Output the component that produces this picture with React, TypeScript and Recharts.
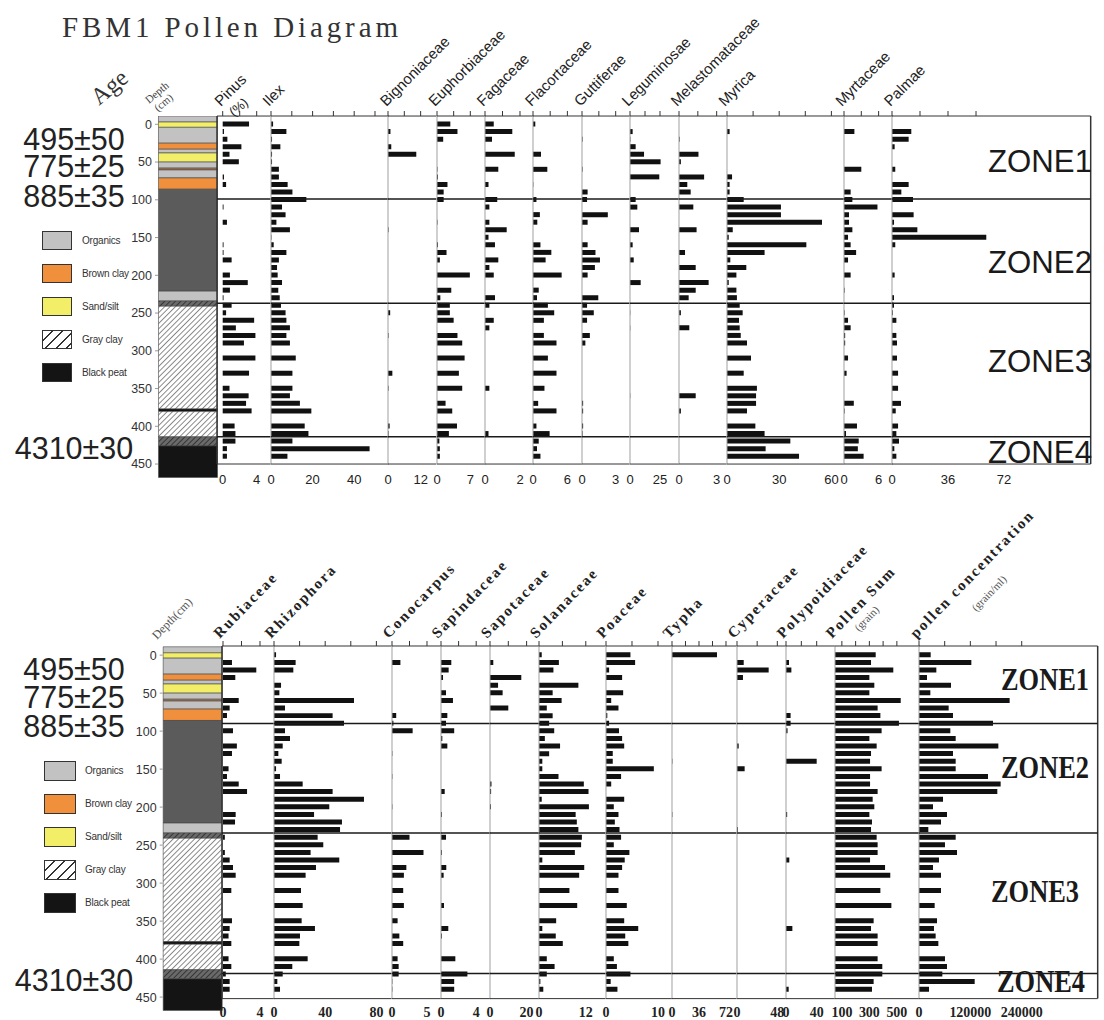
import React from 'react'
import { BarChart, Bar, Cell, XAxis, YAxis, ReferenceLine } from 'recharts'

// sample depths (cm), shared by both panels
const depths = [0, 10, 20, 30, 40, 50, 60, 70, 80, 90, 100, 110, 120, 130, 140, 150, 160, 170, 180, 190, 200, 210, 220, 230, 240, 250, 260, 270, 280, 290, 310, 330, 350, 360, 370, 380, 400, 410, 420, 430, 440]

// upper diagram (%)
const pinus = [3.1, 0.15, 0.55, 2.2, 0.8, 1.9, 0, 0.15, 0.4, 0, 0, 0.1, 0, 0.5, 0, 0, 0.1, 0.1, 1.05, 0, 0.85, 2.95, 0.85, 0.1, 1.05, 0.4, 3.7, 1.55, 3.85, 2.5, 3.85, 3.1, 0.8, 3.05, 2.75, 3.4, 1.4, 1.5, 1.5, 0.5, 0.5]
const ilex = [1.0, 7.4, 0.5, 4.5, 0.5, 0.5, 3.8, 3.8, 8.0, 10.3, 17, 5.3, 7.0, 2.6, 9.1, 0.2, 1.3, 7.4, 3.8, 2.9, 3.2, 5.3, 3.5, 4.2, 4.8, 7.0, 7.4, 9.1, 7.4, 9.1, 11.9, 10.3, 10.3, 9.1, 13.9, 19.4, 16.2, 18, 10.3, 47.4, 7.9]
const bignoniaceae = [0, 0.9, 0, 1.2, 10.4, 0, 0, 0, 0, 0, 0, 0, 0, 0, 0.2, 0, 0, 0, 0, 0, 0, 0, 0, 0, 0, 0.8, 0, 0, 0.2, 0, 0, 1.6, 0.2, 0, 0, 0, 0.6, 0.2, 0, 0, 0]
const euphorbiaceae = [2.8, 4.3, 1.3, 0, 0, 0, 0.1, 0.2, 2.2, 1.4, 1.4, 0, 0, 0.1, 0, 0, 0.2, 2.0, 0.6, 0, 6.9, 0, 3.0, 0.7, 2.7, 2.7, 3.5, 0, 4.3, 5.3, 5.8, 4.6, 5.3, 0, 1.8, 3.2, 4.2, 2.5, 0.5, 0.6, 0.6]
const fagaceae = [0.5, 1.56, 0.4, 0, 1.7, 0, 0.76, 0, 0.2, 0, 0.7, 0.25, 0, 0.25, 1.24, 0.2, 0.57, 0, 0.76, 0.25, 0.5, 0, 0, 0.57, 0.25, 0, 0.5, 0.25, 0, 0, 0, 0, 0.25, 0, 0, 0, 0, 0.2, 0, 0, 0]
const flacortaceae = [0.4, 0, 0, 0, 1.4, 0, 2.5, 0, 0.05, 0, 0.6, 0, 1.2, 0.75, 0, 0, 1.3, 3.2, 2.2, 0, 5.0, 0, 1.0, 0.7, 2.6, 3.7, 1.9, 0, 1.9, 4.1, 2.6, 4.1, 2.0, 0, 0.9, 4.1, 0.6, 2.9, 1.0, 0.7, 1.3]
const guttiferae = [0, 0, 0.05, 0, 0, 0, 0.05, 0, 0, 0.5, 0.45, 0, 2.3, 0.5, 0, 0, 0.5, 1.2, 1.6, 1.15, 0.5, 0, 0, 1.45, 0.45, 1.05, 0.45, 0, 0.7, 0.3, 0, 0, 0, 0, 0.1, 0.1, 0.1, 0.05, 0, 0, 0]
const leguminosae = [0, 2.2, 0.3, 4.7, 11.7, 25.5, 0, 24.4, 0, 0, 4.7, 6.1, 0, 0, 7.5, 0, 2.2, 0, 3.1, 0, 0, 8.9, 0, 0, 0, 0.2, 0, 0.2, 0, 0, 0, 0, 0, 0.2, 0, 0, 0, 0, 0, 0, 0]
const melastomataceae = [0, 0, 0.05, 0, 1.55, 0.15, 0, 2.0, 0.66, 0.93, 0, 1.14, 0, 0, 1.4, 0, 0, 0.48, 0, 1.33, 0, 2.36, 1.33, 0.77, 0, 0.15, 0, 0.82, 0, 0, 0, 0, 0, 1.33, 0, 0.15, 0, 0, 0, 0, 0]
const myrica = [0, 1.5, 0, 0, 0, 0, 0, 2.9, 1.5, 1.5, 9.6, 31, 31, 54.6, 3.3, 1, 45.6, 21.6, 1.9, 11.1, 5.4, 1.0, 5.4, 5.7, 7.3, 9.0, 6.9, 7.3, 7.9, 11.5, 13.8, 9.6, 17.2, 16.7, 16.7, 11.5, 16.3, 21.6, 36.4, 22.2, 41.4]
const myrtaceae = [0, 1.8, 0, 0, 0, 0, 3.0, 0, 0, 1.15, 1.45, 5.8, 0.87, 0.87, 1.45, 0.7, 1.15, 2.1, 0.7, 0, 1.15, 0, 0.1, 0, 0, 0.1, 0.7, 1.15, 0.2, 0.2, 0.7, 0.45, 0, 0, 1.7, 0.1, 2.25, 0.35, 2.55, 2.4, 3.4]
const palmae = [0, 12.4, 10.7, 1.7, 0, 0, 2.1, 0, 10.7, 6.0, 13.5, 0, 13.9, 1.3, 16.3, 60.6, 2.1, 0, 0, 0, 1.7, 0, 0, 1.3, 1.3, 0.5, 2.8, 0, 2.8, 3.2, 3.2, 3.9, 3.9, 0, 5.8, 2.4, 3.9, 2.8, 4.5, 1.5, 2.8]

// lower diagram
const rubiaceae = [0, 0.97, 3.6, 1.33, 0, 0, 1.7, 0.72, 0.43, 0, 1.08, 0, 1.5, 0.97, 0, 0.6, 0.43, 1.7, 2.6, 0, 0, 1.37, 1.3, 0, 0.2, 0, 0.2, 0.72, 1.08, 1.37, 0.9, 0, 0.97, 0.72, 0.6, 0.9, 0.6, 0.9, 0.3, 0.72, 0.72]
const rhizophora = [1.6, 16.9, 15.1, 0, 5.5, 4.2, 62.5, 8.6, 45.8, 54.7, 8.6, 12.5, 6.8, 3.4, 6.0, 1.6, 4.7, 22.4, 45.8, 70.3, 43.2, 31.3, 53.1, 51.6, 34.1, 38.5, 28.6, 51, 32.8, 24.7, 21.1, 22.4, 21.6, 32, 20.3, 19.8, 26.3, 14.3, 6.8, 2.6, 4.7]
const conocarpus = [0, 1.2, 0, 0, 0, 0, 0, 0, 0.6, 0.2, 2.95, 0, 0, 0.05, 0, 0, 0.05, 0, 0, 0, 0.05, 0, 0, 0, 2.5, 0, 4.5, 0, 2.05, 1.7, 1.6, 1.7, 0.8, 0, 1.05, 1.6, 0.8, 0.95, 0.95, 0.05, 0.05]
const sapindaceae = [0, 1.17, 0.87, 0.23, 0, 0.57, 1.36, 0, 0.72, 0.57, 1.5, 0.15, 0.72, 0, 0, 0, 0, 0, 0.42, 0, 0, 0.1, 0, 0, 0.57, 0, 0.1, 0, 0.6, 0.3, 0, 0.34, 0, 0.83, 0.1, 0, 1.63, 0, 3.0, 1.5, 1.5]
const sapotaceae = [0, 1.8, 0, 17.1, 4.4, 6.9, 0, 10, 0, 0, 0, 0, 0, 0, 0, 0, 0, 0.8, 0.6, 0, 0.5, 0, 0, 0, 0, 0, 0, 0, 0, 0, 0, 0, 0, 0, 0, 0, 0, 0, 0, 0, 0]
const solanaceae = [0.7, 5.1, 3.7, 0, 10.1, 3.5, 5.8, 2.0, 3.5, 2.6, 3.9, 1.5, 5.4, 2.6, 0.85, 0.85, 5.0, 11.5, 12.7, 0.7, 12.8, 9.4, 9.7, 10.1, 11, 10.8, 9.2, 0.85, 11.6, 10.3, 7.8, 9.8, 4.4, 0.85, 4.3, 6.1, 2.0, 4.0, 2.0, 0.35, 1.1]
const poaceae = [4.7, 5.6, 0.6, 3.1, 0, 3.3, 1.0, 2.4, 0.25, 0.6, 2.5, 3.1, 3.5, 1.3, 1.3, 9.2, 2.9, 1.0, 0, 3.5, 1.5, 2.4, 1.7, 2.6, 2.9, 1.5, 4.5, 3.6, 3.1, 2.4, 2.4, 4.0, 3.5, 6.2, 3.7, 4.3, 1.5, 2.1, 4.7, 0.9, 2.2]
const typha = [60, 0, 0, 0, 0, 0, 0, 0, 0, 0, 0, 0, 0, 0, 0.5, 0, 0, 0, 0, 0, 0, 0.5, 0, 0, 0, 0, 0, 0, 0, 0, 0, 0, 0, 0, 0, 0, 0, 0, 0, 0, 0]
const cyperaceae = [0, 8, 37.7, 7.1, 0, 0, 0, 0, 0, 0, 0, 0, 2, 0, 0, 9.1, 0, 0, 0, 0, 0, 0, 0, 1, 0, 0, 0, 0, 0, 0, 0, 0, 0, 0, 0, 0, 0, 0, 0, 0, 0]
const polypoidiaceae = [0, 3.9, 7, 0, 0, 0, 0, 0, 6, 6, 2, 0, 0, 0, 40, 0, 0, 0, 0, 0, 0, 1.5, 0, 0, 0, 0, 0, 4.3, 0, 0, 0, 0, 0, 8.3, 0, 0, 0, 0, 0, 0, 3.5]
const pollenSum = [346, 312, 474, 300, 336, 300, 528, 360, 380, 515, 389, 300, 353, 312, 305, 389, 305, 305, 360, 324, 336, 300, 319, 312, 353, 360, 360, 305, 414, 452, 380, 460, 331, 312, 360, 360, 360, 394, 394, 331, 319]
const pollenConc = [27300, 122300, 40500, 18700, 74800, 26500, 211800, 69300, 79400, 172900, 73200, 85700, 185400, 79400, 85700, 85700, 161200, 190800, 183000, 56100, 32700, 65400, 51400, 21800, 85700, 60700, 88800, 46700, 32700, 51400, 51400, 36600, 42100, 35000, 38900, 45200, 60700, 65400, 54500, 130100, 23400]

const ageLabels = ['495±50', '775±25', '885±35', '4310±30']
const ageDepths = [19, 55, 94, 428]
const depthTicks = [0, 50, 100, 150, 200, 250, 300, 350, 400, 450]
const zoneNames = ['ZONE1', 'ZONE2', 'ZONE3', 'ZONE4']
const zonesTop = [99, 237, 414]
const zonesBottom = [90, 234, 419]

const lithLegend = ['Organics', 'Brown clay', 'Sand/silt', 'Gray clay', 'Black peat']
const lithTops = [-11, -3, 4, 25, 33, 38, 50, 58, 60.5, 71, 86, 221, 234, 241, 377, 380.5, 414, 426]
const lithBases = [-3, 4, 25, 33, 38, 50, 58, 60.5, 71, 86, 221, 234, 241, 377, 380.5, 414, 426, 468]
const lithKinds = ['organics', 'sand', 'organics', 'brown', 'organics', 'sand', 'organics', 'thin', 'organics', 'brown', 'dark', 'organics', 'hatchDark', 'hatch', 'black', 'hatch', 'hatchDark', 'black']

const lithFill: Record<string, string> = {
  organics: '#c2c2c2', sand: '#f2ee68', brown: '#f0903c', thin: '#b07850', dark: '#5b5b5b',
  hatch: 'url(#hatch)', hatchDark: 'url(#hatchDark)', black: '#141414',
}
const legendFill = ['#c2c2c2', '#f0903c', '#f2ee68', 'repeating-linear-gradient(135deg, #fff 0 6px, #333 6px 7.4px)', '#141414']

const SANS = "'Liberation Sans', Arial, sans-serif"
const SERIF = "'Liberation Serif', 'Times New Roman', serif"
const TOP_AX = 8
const BOT_AX = 28

type Panel = { y0: number; k: number; dTop: number; dBot: number; lithBot: number; lithL: number; lithR: number; tickMargin: number; tick: any }
const upper: Panel = { y0: 124.8, k: 0.755, dTop: -11, dBot: 450, lithBot: 468, lithL: 158, lithR: 217, tickMargin: 11, tick: { fontSize: 13, fill: '#222', fontFamily: SANS } }
const lower: Panel = { y0: 655, k: 0.76, dTop: -12, dBot: 452, lithBot: 468, lithL: 162.7, lithR: 221.7, tickMargin: 8, tick: { fontSize: 14, fill: '#222', fontFamily: SERIF, fontWeight: 700 } }

type Col = { name: string; sub?: string; values: number[]; left: number; base?: number; unit: number; right: number; start?: number; ticks: number[]; minor: number[] }

const upperCols: Col[] = [
  { name: 'Pinus', sub: '(%)', values: pinus, left: 217, base: 222.7, unit: 8.5, right: 270.7, ticks: [0, 4], minor: [0, 2, 4] },
  { name: 'Ilex', values: ilex, left: 270.7, unit: 2.08, right: 388.3, ticks: [0, 20, 40], minor: [0, 10, 20, 30, 40, 50] },
  { name: 'Bignoniaceae', values: bignoniaceae, left: 388.3, unit: 2.72, right: 436.7, ticks: [0, 12], minor: [0, 6, 12] },
  { name: 'Euphorbiaceae', values: euphorbiaceae, left: 436.7, unit: 4.76, right: 485, ticks: [0, 7], minor: [0, 3.5, 7] },
  { name: 'Fagaceae', values: fagaceae, left: 485, unit: 17.5, right: 533.3, ticks: [0, 2], minor: [0, 1, 2] },
  { name: 'Flacortaceae', values: flacortaceae, left: 533.3, unit: 5.73, right: 582.3, ticks: [0, 6], minor: [0, 3, 6] },
  { name: 'Guttiferae', values: guttiferae, left: 582.3, unit: 11.23, right: 630, ticks: [0, 3], minor: [0, 1.5, 3] },
  { name: 'Leguminosae', values: leguminosae, left: 630, unit: 1.2, right: 679, ticks: [0, 25], minor: [0, 12.5, 25] },
  { name: 'Melastomataceae', values: melastomataceae, left: 679, unit: 12.56, right: 726.7, ticks: [0, 3], minor: [0, 1.5, 3] },
  { name: 'Myrica', values: myrica, left: 726.7, unit: 1.74, right: 843.7, ticks: [0, 30, 60], minor: [0, 15, 30, 45, 60] },
  { name: 'Myrtaceae', values: myrtaceae, left: 843.7, unit: 5.77, right: 892.3, ticks: [0, 6], minor: [0, 3, 6] },
  { name: 'Palmae', values: palmae, left: 892.3, unit: 1.556, right: 1091, ticks: [0, 36, 72], minor: [0, 18, 36, 54] },
]

const lowerCols: Col[] = [
  { name: 'Rubiaceae', values: rubiaceae, left: 221.7, base: 222.7, unit: 9.25, right: 274, ticks: [0, 4], minor: [0, 2, 4] },
  { name: 'Rhizophora', values: rhizophora, left: 274, unit: 1.28, right: 391.7, ticks: [0, 40, 80], minor: [0, 20, 40, 60, 80] },
  { name: 'Conocarpus', values: conocarpus, left: 391.7, unit: 7, right: 440.7, ticks: [0, 5], minor: [0, 2.5, 5] },
  { name: 'Sapindaceae', values: sapindaceae, left: 440.7, unit: 8.8, right: 490, ticks: [0, 4], minor: [0, 2, 4] },
  { name: 'Sapotaceae', values: sapotaceae, left: 490, unit: 1.83, right: 539, ticks: [0, 20], minor: [0, 10, 20] },
  { name: 'Solanaceae', values: solanaceae, left: 539, unit: 3.9, right: 605.7, ticks: [0, 12], minor: [0, 6, 12] },
  { name: 'Poaceae', values: poaceae, left: 605.7, unit: 5.2, right: 672, ticks: [0, 10], minor: [0, 5, 10] },
  { name: 'Typha', values: typha, left: 672, unit: 0.75, right: 736.7, ticks: [0, 36, 72], minor: [0, 18, 36, 54, 72] },
  { name: 'Cyperaceae', values: cyperaceae, left: 736.7, unit: 0.84, right: 786, ticks: [0, 48], minor: [0, 24, 48] },
  { name: 'Polypoidiaceae', values: polypoidiaceae, left: 786, unit: 0.767, right: 835, ticks: [0, 40], minor: [0, 20, 40] },
  { name: 'Pollen Sum', sub: '(grain)', values: pollenSum, left: 835, unit: 0.1375, right: 919.3, start: 50, ticks: [100, 300, 500], minor: [100, 200, 300, 400, 500] },
  { name: 'pollen concentration', sub: '(grain/ml)', values: pollenConc, left: 919.3, unit: 0.000428, right: 1098, ticks: [0, 120000, 240000], minor: [0, 60000, 120000, 180000, 240000] },
]

function TaxonChart({ col, panel, zones, first, last }: { col: Col; panel: Panel; zones: number[]; first: boolean; last: boolean }) {
  const s = col.start ?? 0
  const base = col.base ?? col.left
  const lo = s - (base - col.left) / col.unit
  const hi = s + (col.right - base) / col.unit
  const plotH = panel.k * (panel.dBot - panel.dTop)
  const rows = depths.map((d, i) => ({ depth: d, v: col.values[i] }))
  return (
    <div style={{ position: 'absolute', left: col.left, top: panel.y0 + panel.k * panel.dTop - TOP_AX }}>
      <BarChart layout="vertical" width={col.right - col.left} height={TOP_AX + plotH + BOT_AX} data={rows}
        margin={{ top: 0, right: 0, bottom: 0, left: 0 }}>
        <XAxis xAxisId="t" orientation="top" type="number" domain={[lo, hi]} allowDataOverflow ticks={col.minor}
          interval={0} tickFormatter={() => ''} height={TOP_AX} tickSize={5} stroke="#333" />
        <XAxis xAxisId="b" type="number" domain={[lo, hi]} allowDataOverflow ticks={col.ticks} interval={0}
          height={BOT_AX} tickLine={false} tickSize={0} tickMargin={panel.tickMargin} tick={panel.tick} stroke="#333" />
        <YAxis type="number" dataKey="depth" domain={[panel.dTop, panel.dBot]} hide allowDataOverflow />
        {first
          ? <ReferenceLine xAxisId="b" x={lo} stroke="#333" strokeWidth={1.5} />
          : <ReferenceLine xAxisId="b" x={s} stroke="#a0a0a0" strokeWidth={1} />}
        {last && <ReferenceLine xAxisId="b" x={hi} stroke="#333" strokeWidth={1.5} />}
        {zones.map((z) => <ReferenceLine key={z} xAxisId="b" y={z} stroke="#1a1a1a" strokeWidth={1.5} />)}
        <Bar xAxisId="b" dataKey="v" fill="#111" barSize={5} isAnimationActive={false} />
      </BarChart>
    </div>
  )
}

function LithChart({ panel }: { panel: Panel }) {
  const h = panel.k * (panel.lithBot - panel.dTop)
  const w = panel.lithR - panel.lithL
  const rows = lithTops.map((t, i) => ({ x: 0, range: [t, lithBases[i]] }))
  return (
    <div style={{ position: 'absolute', left: 0, top: panel.y0 + panel.k * panel.dTop }}>
      <BarChart width={panel.lithR} height={h} data={rows} margin={{ top: 0, right: 0, bottom: 0, left: 0 }}>
        <defs>
          <pattern id="hatch" patternUnits="userSpaceOnUse" width="3.8" height="3.8" patternTransform="rotate(45)">
            <rect width="3.8" height="3.8" fill="#fff" />
            <line x1="0" y1="0" x2="0" y2="3.8" stroke="#2e2e2e" strokeWidth="1.1" />
          </pattern>
          <pattern id="hatchDark" patternUnits="userSpaceOnUse" width="3.8" height="3.8" patternTransform="rotate(45)">
            <rect width="3.8" height="3.8" fill="#6a6a6a" />
            <line x1="0" y1="0" x2="0" y2="3.8" stroke="#1a1a1a" strokeWidth="1.3" />
          </pattern>
        </defs>
        <XAxis type="number" dataKey="x" domain={[-1, 1]} hide />
        <YAxis type="number" domain={[panel.dTop, panel.lithBot]} reversed allowDataOverflow
          ticks={depthTicks} interval={0} width={panel.lithL} axisLine={false} tickSize={3} tickMargin={3}
          tickLine={{ stroke: '#999' }} tick={{ fontSize: 12.5, fill: '#333', fontFamily: SANS }} />
        <Bar dataKey="range" barSize={w} isAnimationActive={false}>
          {lithKinds.map((t, i) => <Cell key={i} fill={lithFill[t]} stroke="#444" strokeWidth={0.6} />)}
        </Bar>
      </BarChart>
    </div>
  )
}

function Legend({ x, y, gap, w, h, labelX }: { x: number; y: number; gap: number; w: number; h: number; labelX: number }) {
  return (
    <>
      {lithLegend.map((name, i) => (
        <React.Fragment key={name}>
          <div style={{ position: 'absolute', left: x, top: y + i * gap, width: w, height: h, boxSizing: 'border-box', border: '1.5px solid #333', background: legendFill[i] }} />
          <div style={{ position: 'absolute', left: labelX, top: y + i * gap, height: h, lineHeight: `${h}px`, fontSize: 10, letterSpacing: -0.2, color: '#333', fontFamily: SANS }}>{name}</div>
        </React.Fragment>
      ))}
    </>
  )
}

function Headers() {
  const y = (p: Panel, d: number) => p.y0 + p.k * d
  return (
    <svg width={1104} height={1020} style={{ position: 'absolute', left: 0, top: 0, pointerEvents: 'none' }}>
      <text x={62} y={37} fontFamily={SERIF} fontSize={29} textLength={336} lengthAdjust="spacing" fill="#333">FBM1 Pollen Diagram</text>

      <text transform="translate(99,106) rotate(-40)" fontFamily={SERIF} fontSize={24} fill="#333">Age</text>
      <text transform="translate(149,104) rotate(-40)" fontFamily={SERIF} fontSize={11} fill="#444">Depth</text>
      <text transform="translate(158,112) rotate(-40)" fontFamily={SERIF} fontSize={11} fill="#444">(cm)</text>
      {upperCols.map((c) => {
        const bx = (c.base ?? c.left) - 2
        return (
          <g key={c.name}>
            <text transform={`translate(${bx},107) rotate(-45)`} fontFamily={SANS} fontSize={15} fill="#222">{c.name}</text>
            {c.sub && <text transform={`translate(${bx + 13},117) rotate(-40)`} fontFamily={SANS} fontSize={13} fill="#222">{c.sub}</text>}
          </g>
        )
      })}

      <text transform="translate(157,640) rotate(-46)" fontFamily={SERIF} fontSize={12} fill="#555">Depth(cm)</text>
      {lowerCols.map((c) => {
        const bx = (c.base ?? c.left) - 3
        return (
          <g key={c.name}>
            <text transform={`translate(${bx},639) rotate(-46)`} fontFamily={SERIF} fontWeight={700} fontSize={15} letterSpacing={2} fill="#222">{c.name}</text>
            {c.sub && <text transform={`translate(${bx + (c.sub === '(grain)' ? 27 : 60)},${c.sub === '(grain)' ? 632 : 612}) rotate(-46)`} fontFamily={SERIF} fontSize={11} fill="#555">{c.sub}</text>}
          </g>
        )
      })}

      {[upper, lower].map((p, pi) => ageLabels.map((a, i) => (
        <text key={`${pi}-${a}`} x={74} y={y(p, ageDepths[i]) + 11} textAnchor="middle" fontFamily={SANS} fontSize={30.5} fill="#222">{a}</text>
      )))}

      {zoneNames.map((z, i) => (
        <text key={`u${z}`} x={988} y={[172, 273, 372, 463][i]} fontFamily={SANS} fontSize={31} textLength={104} lengthAdjust="spacingAndGlyphs" fill="#1a1a1a">{z}</text>
      ))}
      {zoneNames.map((z, i) => (
        <text key={`l${z}`} x={[1001, 1001, 991, 997][i]} y={[690, 778, 902, 992][i]} fontFamily={SERIF} fontWeight={700} fontSize={31} textLength={88} lengthAdjust="spacingAndGlyphs" fill="#1a1a1a">{z}</text>
      ))}
    </svg>
  )
}

export default function App() {
  return (
    <div style={{ position: 'absolute', left: 0, top: 0, width: 1104, height: 1020, background: '#fff', overflow: 'hidden' }}>
      <style>{'.recharts-surface{overflow:visible}'}</style>
      <LithChart panel={upper} />
      <LithChart panel={lower} />
      {upperCols.map((c, i) => (
        <TaxonChart key={c.name} col={c} panel={upper} zones={zonesTop} first={i === 0} last={i === upperCols.length - 1} />
      ))}
      {lowerCols.map((c, i) => (
        <TaxonChart key={c.name} col={c} panel={lower} zones={zonesBottom} first={i === 0} last={i === lowerCols.length - 1} />
      ))}
      <Legend x={42} y={231} gap={33} w={30} h={19} labelX={82} />
      <Legend x={44} y={761} gap={33} w={32} h={20} labelX={85} />
      <Headers />
    </div>
  )
}
